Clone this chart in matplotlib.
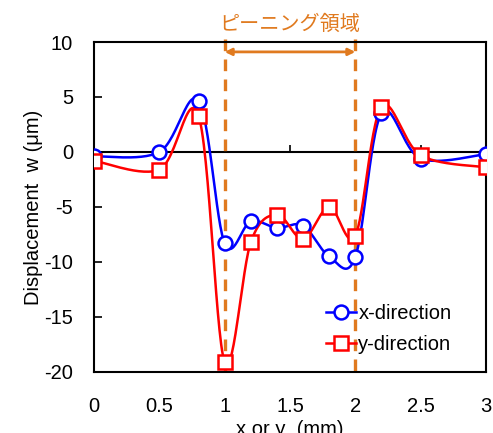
import numpy as np
import matplotlib.pyplot as plt

plt.rcParams['font.family'] = ['Liberation Sans', 'Noto Sans CJK JP', 'DejaVu Sans']
plt.rcParams['axes.unicode_minus'] = False

# positions along the specimen (mm)
pos = [0.0, 0.5, 0.8, 1.0, 1.2, 1.4, 1.6, 1.8, 2.0, 2.2, 2.5, 3.0]
# out-of-plane displacement (um)
w_x = [-0.4, 0.0, 4.65, -8.3, -6.3, -6.9, -6.7, -9.5, -9.55, 3.5, -0.6, -0.2]
w_y = [-0.8, -1.6, 3.3, -19.1, -8.2, -5.7, -7.9, -5.0, -7.6, 4.1, -0.3, -1.4]

peen_start, peen_end = 1.0, 2.0
peen_label = "ピーニング領域"

x_ticks = [0, 0.5, 1, 1.5, 2, 2.5, 3]
x_tick_labels = ["0", "0.5", "1", "1.5", "2", "2.5", "3"]
y_ticks = [-20, -15, -10, -5, 0, 5, 10]

ORANGE = "#E07A1F"
FS = 14.5


def smooth_curve(xs, ys, n=30):
    # Catmull-Rom style bezier smoothing through every point
    p = np.column_stack([xs, ys]).astype(float)
    pts = np.vstack([p[0], p, p[-1]])
    out = []
    t = np.linspace(0, 1, n)[:, None]
    for i in range(1, len(pts) - 2):
        p0, p1, p2, p3 = pts[i - 1], pts[i], pts[i + 1], pts[i + 2]
        c1 = p1 + (p2 - p0) / 6.0
        c2 = p2 - (p3 - p1) / 6.0
        seg = ((1 - t) ** 3) * p1 + 3 * ((1 - t) ** 2) * t * c1 \
            + 3 * (1 - t) * t ** 2 * c2 + t ** 3 * p2
        out.append(seg if i == 1 else seg[1:])
    seg = np.vstack(out)
    return seg[:, 0], seg[:, 1]


fig = plt.figure(figsize=(4.93, 4.33), dpi=100)
ax = fig.add_axes([0.1907, 0.1409, 0.7951, 0.7621])

for xs_, ys_, col, mk, ms, name in [
    (pos, w_x, "#0000FF", "o", 10, "x-direction"),
    (pos, w_y, "#FF0000", "s", 9.5, "y-direction"),
]:
    sx, sy = smooth_curve(xs_, ys_)
    ax.plot(sx, sy, color=col, lw=1.8, zorder=3)
    ax.plot(xs_, ys_, linestyle="none", marker=mk, ms=ms, mfc="white",
            mec=col, mew=1.8, zorder=4)
    # legend proxy
    ax.plot([], [], color=col, lw=1.8, marker=mk, ms=ms, mfc="white",
            mec=col, mew=1.8, label=name)

# horizontal zero line with upward ticks
ax.axhline(0, color="black", lw=1.5, zorder=2)
ax.plot([1, 1.5, 2, 2.5], [0, 0, 0, 0], linestyle="none", marker=2,
        ms=5, mew=1.2, color="black", zorder=2)

# peening region markers
for xv in (peen_start, peen_end):
    ax.plot([xv, xv], [10.3, -20.5], color=ORANGE, lw=2.4,
            linestyle=(0, (3.5, 2.5)), clip_on=False, zorder=2)
ax.annotate("", xy=(peen_start, 9.1), xytext=(peen_end, 9.1),
            arrowprops=dict(arrowstyle="<|-|>", color=ORANGE, lw=2,
                            mutation_scale=10, shrinkA=0, shrinkB=0))
ax.text((peen_start + peen_end) / 2, 11.6, peen_label, color=ORANGE,
        fontsize=FS, ha="center", va="center",
        family=['Noto Sans CJK JP', 'DejaVu Sans'])

ax.set_xlim(0, 3)
ax.set_ylim(-20, 10)
ax.set_xticks(x_ticks)
ax.set_xticklabels(x_tick_labels)
ax.set_yticks(y_ticks)
ax.tick_params(axis="x", length=0, pad=18, labelsize=FS)
ax.tick_params(axis="y", direction="in", length=6, width=1.2, pad=15,
               labelsize=FS)
for sp in ax.spines.values():
    sp.set_linewidth(1.5)

ax.set_xlabel("x or y  (mm)", fontsize=FS, labelpad=3)
ax.set_ylabel("Displacement  w (μm)", fontsize=FS, labelpad=1)

ax.legend(loc="center left", bbox_to_anchor=(0.592, 0.13), frameon=False,
          fontsize=FS, handlelength=1.5, handletextpad=0.1,
          labelspacing=0.6, borderpad=0, borderaxespad=0)

fig.savefig("out.png", dpi=100)
